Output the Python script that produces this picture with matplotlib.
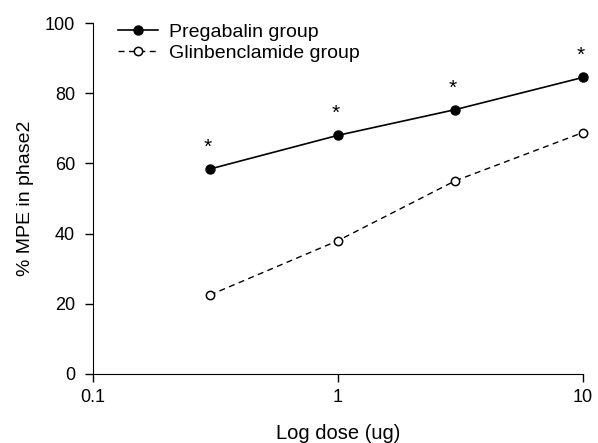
import numpy as np
import matplotlib
matplotlib.use("Agg")
import matplotlib.pyplot as plt

plt.rcParams['font.family'] = ['Liberation Sans', 'DejaVu Sans']

# dose (ug) and % MPE
dose = [0.3, 1, 3, 10]
pregabalin = [58.4, 68.0, 75.3, 84.5]
glibenclamide = [22.5, 38.0, 55.0, 68.8]
signif = ["*", "*", "*", "*"]

fig = plt.figure(figsize=(5.98, 4.43), dpi=100)
ax = fig.add_axes([93 / 598, 69 / 443, 490 / 598, 351 / 443])

ax.plot(dose, pregabalin, '-o', color='black', mfc='black', mec='black',
        ms=6.5, lw=1.2, label='Pregabalin group', clip_on=False)
ax.plot(dose, glibenclamide, '--o', color='black', mfc='white', mec='black',
        ms=6.0, lw=1.0, dashes=(4.3, 3.2), mew=1.1, label='Glinbenclamide group', clip_on=False)

for x, y, s in zip(dose, pregabalin, signif):
    ax.text(x * 0.975, y + 6.2, s, ha='center', va='center', fontsize=15)

ax.set_xscale('log')
ax.set_xlim(0.1, 10)
ax.set_ylim(0, 100)
ax.set_xticks([0.1, 1, 10])
ax.set_xticklabels(['0.1', '1', '10'])
ax.minorticks_off()
ax.set_yticks([0, 20, 40, 60, 80, 100])

ax.spines['top'].set_visible(False)
ax.spines['right'].set_visible(False)
ax.tick_params(direction='out', length=6, width=1, labelsize=13, pad=5)
ax.tick_params(axis='y', pad=7)
ax.set_xlabel('Log dose (ug)', fontsize=14.5, labelpad=13)
ax.set_ylabel('% MPE in phase2', fontsize=14, labelpad=8)

ax.legend(loc='upper left', bbox_to_anchor=(118 / 598, 1 - 23 / 443),
          bbox_transform=fig.transFigure, frameon=False, borderaxespad=0, borderpad=0,
          fontsize=14, handlelength=2.07, handletextpad=0.56, labelspacing=0.2)

fig.savefig('out.png', dpi=100)
